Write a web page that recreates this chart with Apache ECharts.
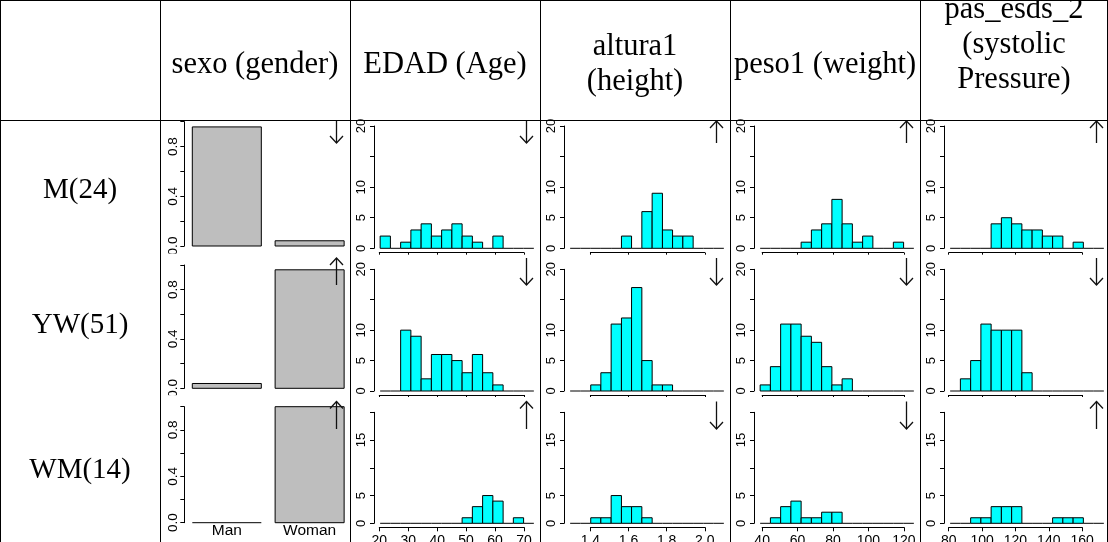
<!DOCTYPE html>
<html><head><meta charset="utf-8">
<script src="https://cdn.jsdelivr.net/npm/echarts@6/dist/echarts.min.js"></script>
<style>html,body{margin:0;padding:0;background:#fff}#c{width:1108px;height:542px}</style>
</head><body><div id="c"></div>
<script>
// ---------------- data ----------------
const groups = ['M(24)', 'YW(51)', 'WM(14)'];
const headers = ['sexo (gender)', 'EDAD (Age)', 'altura1\n(height)', 'peso1 (weight)', 'pas_esds_2\n(systolic\nPressure)'];
const sexCategories = ['Man', 'Woman'];
const sexProportions = [[0.958, 0.042], [0.039, 0.961], [0, 1]];

const ageBreaks = [20.3, 23.84, 27.38, 30.92, 34.46, 38.0, 41.54, 45.08, 48.62, 52.16, 55.7, 59.24, 62.78, 66.32, 69.86, 73.4];
const ageCounts = [
  [2, 0, 1, 3, 4, 2, 3, 4, 2, 1, 0, 2, 0, 0, 0],
  [0, 0, 10, 9, 2, 6, 6, 5, 3, 6, 3, 1, 0, 0, 0],
  [0, 0, 0, 0, 0, 0, 0, 0, 1, 3, 5, 4, 0, 1, 0]];
const ageTicks = [20, 30, 40, 50, 60, 70];

const heightBreaks = [1.294, 1.348, 1.402, 1.455, 1.509, 1.563, 1.616, 1.670, 1.724, 1.778, 1.831, 1.885, 1.939, 1.993, 2.046, 2.100];
const heightCounts = [
  [0, 0, 0, 0, 0, 2, 0, 6, 9, 3, 2, 2, 0, 0, 0],
  [0, 0, 1, 3, 11, 12, 17, 5, 1, 1, 0, 0, 0, 0, 0],
  [0, 0, 1, 1, 5, 3, 3, 1, 0, 0, 0, 0, 0, 0, 0]];
const heightTicks = [1.4, 1.6, 1.8, 2.0];

const weightBreaks = [38.87, 44.66, 50.44, 56.23, 62.01, 67.80, 73.58, 79.37, 85.15, 90.94, 96.72, 102.51, 108.29, 114.08, 119.86, 125.65];
const weightCounts = [
  [0, 0, 0, 0, 1, 3, 4, 8, 4, 1, 2, 0, 0, 1, 0],
  [1, 4, 11, 11, 9, 8, 4, 1, 2, 0, 0, 0, 0, 0, 0],
  [0, 1, 3, 4, 1, 1, 2, 2, 0, 0, 0, 0, 0, 0, 0]];
const weightTicks = [40, 60, 80, 100, 120];

const pressureBreaks = [80.85, 86.99, 93.14, 99.29, 105.43, 111.58, 117.72, 123.87, 130.01, 136.16, 142.30, 148.45, 154.60, 160.74, 166.89, 173.03];
const pressureCounts = [
  [0, 0, 0, 0, 4, 5, 4, 3, 3, 2, 2, 0, 1, 0, 0],
  [0, 2, 5, 11, 10, 10, 10, 3, 0, 0, 0, 0, 0, 0, 0],
  [0, 0, 1, 1, 3, 3, 3, 0, 0, 0, 1, 1, 1, 0, 0]];
const pressureTicks = [80, 100, 120, 140, 160];

const countTicks = [0, 5, 10, 15, 20];
const countLabelsShown = [['0', '5', '10', '20'], ['0', '5', '10', '20'], ['0', '5', '15']];
const propTicks = [0, 0.2, 0.4, 0.6, 0.8, 1.0];
const propLabelsShown = ['0.0', '0.4', '0.8'];

const arrows = [
  ['down', 'down', 'up', 'up', 'up'],
  ['up', 'down', 'down', 'down', 'down'],
  ['up', 'up', 'down', 'down', 'up']];

// ---------------- layout ----------------
const colLeft = [160, 350, 540, 730, 920];
const histRows = [{y0: 248.3, yTop: 126.0, axisY: 252.7}, {y0: 391.0, yTop: 269.3, axisY: 395.0}, {y0: 523.3, yTop: 412.3, axisY: 527.3}];
const sexRows = [{y0: 246.0, yTop: 121.7}, {y0: 388.3, yTop: 265.0}, {y0: 522.7, yTop: 406.7}];
const arrowRows = [[121, 143], [258, 285], [401.5, 429]];
const SANS = '"Liberation Sans", Arial, sans-serif';
const SERIF = '"Liberation Serif", "Times New Roman", serif';

const grids = [], xAxes = [], yAxes = [], series = [], graphics = [];
function addGrid(g, xa, ya) {
  g.containLabel = false; g.outerBoundsMode = 'none';
  grids.push(g);
  const gi = grids.length - 1;
  xa.gridIndex = gi; ya.gridIndex = gi;
  xAxes.push(xa); yAxes.push(ya);
  return {xi: xAxes.length - 1, yi: yAxes.length - 1};
}
const hiddenAxis = (min, max) => ({type: 'value', min, max, show: false, splitLine: {show: false}});

function yAxisStyle(min, max, interval, shown, fmt, margin, fontSize) {
  return {
    type: 'value', min, max, interval, position: 'left',
    axisLine: {show: true, lineStyle: {color: '#000', width: 1}},
    axisTick: {show: true, inside: false, length: 4, lineStyle: {color: '#000', width: 1}},
    axisLabel: {show: true, rotate: 90, margin, fontSize, fontFamily: SANS, color: '#000',
      formatter: v => { const s = fmt(v); return shown.includes(s) ? s : ''; }},
    splitLine: {show: false}
  };
}

function rectRenderer(fill) {
  return function (params, api) {
    const x0 = api.value(0), x1 = api.value(1), h = api.value(2);
    const a = api.coord([x0, h]), b = api.coord([x1, 0]);
    if (h === 0) {
      return {type: 'line', shape: {x1: a[0], y1: b[1], x2: b[0], y2: b[1]},
        style: {stroke: '#000', lineWidth: 1}};
    }
    return {type: 'rect', shape: {x: a[0], y: a[1], width: b[0] - a[0], height: b[1] - a[1]},
      style: {fill, stroke: '#000', lineWidth: 1}};
  };
}

// sex barplots
for (let r = 0; r < 3; r++) {
  const L = colLeft[0], row = sexRows[r];
  const gl = L + 24.3, gw = 165.9, xmin = 0.084, xmax = 2.488;
  const ax = addGrid({left: gl, top: row.yTop, width: gw, height: row.y0 - row.yTop},
    hiddenAxis(xmin, xmax),
    yAxisStyle(0, 1, 0.2, propLabelsShown, v => v.toFixed(1), 4.5, 13.5));
  series.push({type: 'custom', xAxisIndex: ax.xi, yAxisIndex: ax.yi, clip: false,
    renderItem: rectRenderer('#BEBEBE'),
    data: sexProportions[r].map((v, i) => [0.2 + 1.2 * i, 1.2 + 1.2 * i, v])});
  if (r === 2) {
    const px = v => gl + (v - xmin) / (xmax - xmin) * gw;
    addGrid({left: px(0.1), top: row.y0 - 1, width: px(2.5) - px(0.1), height: 1},
      {type: 'category', data: sexCategories, boundaryGap: true, position: 'bottom',
        axisLine: {show: false}, axisTick: {show: false},
        axisLabel: {show: true, margin: 0, fontSize: 15.5, fontFamily: SANS, color: '#000', interval: 0}},
      hiddenAxis(0, 1));
  }
}

// histograms
const vars = [
  {breaks: ageBreaks, counts: ageCounts, ticks: ageTicks, fmt: v => String(Math.round(v))},
  {breaks: heightBreaks, counts: heightCounts, ticks: heightTicks, fmt: v => v.toFixed(1)},
  {breaks: weightBreaks, counts: weightCounts, ticks: weightTicks, fmt: v => String(Math.round(v))},
  {breaks: pressureBreaks, counts: pressureCounts, ticks: pressureTicks, fmt: v => String(Math.round(v))}];
for (let c = 0; c < 4; c++) {
  const vdef = vars[c], L = colLeft[c + 1];
  const b = vdef.breaks, lo = b[0], hi = b[b.length - 1], ext = 0.04 * (hi - lo);
  const xmin = lo - ext, xmax = hi + ext, gl = L + 24, gw = 166;
  const px = v => gl + (v - xmin) / (xmax - xmin) * gw;
  for (let r = 0; r < 3; r++) {
    const row = histRows[r];
    const ax = addGrid({left: gl, top: row.yTop, width: gw, height: row.y0 - row.yTop},
      hiddenAxis(xmin, xmax),
      yAxisStyle(countTicks[0], countTicks[countTicks.length - 1], countTicks[1] - countTicks[0],
        countLabelsShown[r], v => String(Math.round(v)), 6.5, 13));
    series.push({type: 'custom', xAxisIndex: ax.xi, yAxisIndex: ax.yi, clip: false,
      renderItem: rectRenderer('#00FFFF'),
      data: vdef.counts[r].map((n, i) => [b[i], b[i + 1], n])});
    const t = vdef.ticks, t0 = t[0], tN = t[t.length - 1];
    addGrid({left: px(t0), top: row.axisY - 1, width: px(tN) - px(t0), height: 1},
      {type: 'value', min: t0, max: tN, interval: t[1] - t[0], position: 'bottom',
        axisLine: {show: true, lineStyle: {color: '#000', width: 1}},
        axisTick: {show: true, inside: false, length: r < 2 ? 2 : 4, lineStyle: {color: '#000', width: 1}},
        axisLabel: {show: r === 2, margin: 6.5, fontSize: 14, fontFamily: SANS, color: '#000',
          showMinLabel: true, showMaxLabel: true, formatter: vdef.fmt},
        splitLine: {show: false}},
      hiddenAxis(0, 1));
  }
}

// table lines
const lineStyle = {stroke: '#000', lineWidth: 1};
const hl = (x1, x2, y) => ({type: 'line', z: 50, shape: {x1, y1: y, x2, y2: y}, style: lineStyle});
const vl = (x, y1, y2) => ({type: 'line', z: 50, shape: {x1: x, y1, x2: x, y2}, style: lineStyle});
graphics.push(hl(0, 1108, 0.5), hl(0, 1108, 120.5), vl(0.5, 0, 542), vl(1107.5, 0, 542));
colLeft.forEach(x => graphics.push(vl(x + 0.5, 0, 542)));

// clip rotated "0.0" labels that spill into next row
graphics.push({type: 'rect', z: 40, shape: {x: 162, y: 253.6, width: 20, height: 4}, style: {fill: '#fff'}});
graphics.push({type: 'rect', z: 40, shape: {x: 162, y: 395.2, width: 20, height: 4}, style: {fill: '#fff'}});

// header texts
const headerCenters = [[255, 65], [445, 65], [635, 64.5], [825, 65], [1014, 45]];
headers.forEach((h, i) => graphics.push({type: 'text', z: 60,
  style: {text: h, x: headerCenters[i][0], y: headerCenters[i][1], align: 'center', verticalAlign: 'middle',
    font: '30.5px ' + SERIF, lineHeight: 35, fill: '#000'}}));
const groupCenters = [190, 325, 470];
groups.forEach((g, i) => graphics.push({type: 'text', z: 60,
  style: {text: g, x: 80, y: groupCenters[i], align: 'center', verticalAlign: 'middle',
    font: '29px ' + SERIF, fill: '#000'}}));

// arrows
arrows.forEach((rowA, r) => rowA.forEach((d, c) => {
  const x = colLeft[c] + 176.5, yT = arrowRows[r][0], yB = arrowRows[r][1];
  const tip = d === 'up' ? yT : yB, s = d === 'up' ? 1 : -1;
  const st = {stroke: '#111', lineWidth: 1.3, fill: null};
  graphics.push({type: 'line', z: 60, shape: {x1: x, y1: yT, x2: x, y2: yB}, style: st});
  graphics.push({type: 'polyline', z: 60, shape: {points: [[x - 6.5, tip + 7 * s], [x, tip], [x + 6.5, tip + 7 * s]]}, style: st});
}));

const chart = echarts.init(document.getElementById('c'), null, {renderer: 'canvas'});
chart.setOption({
  animation: false,
  backgroundColor: '#fff',
  grid: grids, xAxis: xAxes, yAxis: yAxes, series,
  graphic: {elements: graphics}
});
</script></body></html>
